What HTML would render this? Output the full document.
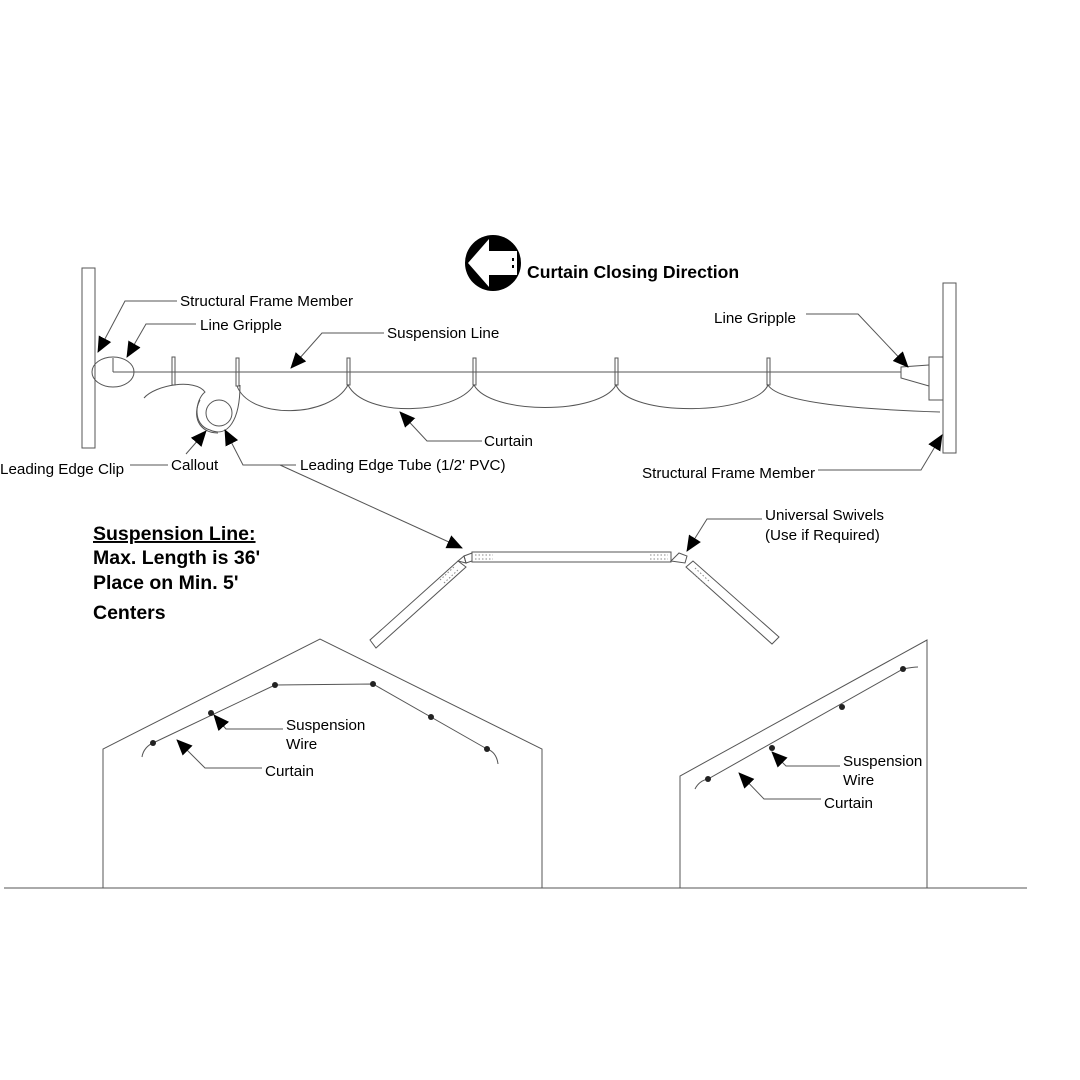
<!DOCTYPE html><html><head><style>body{margin:0;background:#fff}svg{display:block}text{font-family:"Liberation Sans",Arial,sans-serif;font-size:15.2px;fill:#000}.b{font-weight:bold;font-size:19.5px}</style></head><body>
<svg width="1080" height="1080" viewBox="0 0 1080 1080" fill="none" stroke="#555" stroke-width="1">
<defs><marker id="A" markerWidth="16" markerHeight="16" refX="15" refY="8" orient="auto" markerUnits="userSpaceOnUse" viewBox="0 0 16 16"><path d="M0,1L16,8L0,15z" fill="#000" stroke="none"/></marker></defs>
<rect x="82" y="268" width="13" height="180"/>
<rect x="943" y="283" width="13" height="170"/>
<line x1="113" y1="372" x2="901" y2="372"/>
<ellipse cx="113" cy="372" rx="21" ry="15"/>
<line x1="113" y1="358" x2="113" y2="372"/>
<rect x="929" y="357" width="14" height="43"/>
<path d="M929,365L901,367L901,378L929,386"/>
<g><rect x="172" y="357" width="3" height="28"/><rect x="236" y="358" width="3" height="28"/><rect x="347" y="358" width="3" height="27"/><rect x="473" y="358" width="3" height="27"/><rect x="615" y="358" width="3" height="27"/><rect x="767" y="358" width="3" height="27"/></g>
<path d="M237,386C250,420 330,418 348,385C365,418 455,415 474,385C490,415 600,415 616,385C630,418 755,415 768,385C780,405 880,410 940,412"/>
<path d="M144,398C155,385 195,378 205,392C195,400 192,425 210,430C228,438 240,420 240,385"/>
<circle cx="219" cy="413" r="13"/>
<path d="M200,400C192,415 198,433 218,433"/>
<path d="M177,301H125L98,352" marker-end="url(#A)"/>
<path d="M196,324H146L127,357" marker-end="url(#A)"/>
<path d="M384,333H322L291,368" marker-end="url(#A)"/>
<path d="M482,441H427L400,412" marker-end="url(#A)"/>
<path d="M806,314H858L908,367" marker-end="url(#A)"/>
<path d="M818,470H921L942,435" marker-end="url(#A)"/>
<path d="M130,465H168" />
<path d="M186,454L206,431" marker-end="url(#A)"/>
<path d="M296,465H243L225,430" marker-end="url(#A)"/>
<path d="M280,465L462,548" marker-end="url(#A)"/>
<path d="M762,519H707L687,551" marker-end="url(#A)"/>
<circle cx="493" cy="263" r="28" fill="#000" stroke="none"/>
<path d="M468,263L489,239V251H517V275H489V287Z" fill="#fff" stroke="none"/>
<rect x="512" y="258" width="2" height="3" fill="#000" stroke="none"/><rect x="512" y="265" width="2" height="3" fill="#000" stroke="none"/>
<rect x="472" y="552" width="199" height="10"/>
<path d="M464,556L472,553V561L466,563Z"/><path d="M679,553L687,556L685,563L671,561Z"/>
<path d="M458,561L464,556L466,563Z"/>
<path d="M458,561L370,640L376,648L466,567Z"/>
<path d="M693,561L686,567L772,644L779,637Z"/>
<g stroke-dasharray="1.5,2" stroke="#888"><line x1="475" y1="555" x2="493" y2="555"/><line x1="475" y1="559" x2="493" y2="559"/><line x1="650" y1="555" x2="668" y2="555"/><line x1="650" y1="559" x2="668" y2="559"/><line x1="440" y1="580" x2="455" y2="566"/><line x1="444" y1="583" x2="459" y2="569"/><line x1="695" y1="568" x2="710" y2="582"/><line x1="692" y1="572" x2="707" y2="586"/></g>
<path d="M103,888V749L320,639L542,749V888"/>
<path d="M153,743L275,685L373,684L487,749"/>
<path d="M142,757C143,750 148,745 153,743M487,749C493,751 497,756 498,764"/>
<g fill="#222" stroke="none"><circle cx="153" cy="743" r="3"/><circle cx="211" cy="713" r="3"/><circle cx="275" cy="685" r="3"/><circle cx="373" cy="684" r="3"/><circle cx="431" cy="717" r="3"/><circle cx="487" cy="749" r="3"/></g>
<path d="M283,729H226L214,715" marker-end="url(#A)"/>
<path d="M262,768H205L177,740" marker-end="url(#A)"/>
<path d="M680,888V776L927,640V888"/>
<path d="M695,789C698,783 703,780 708,779L903,669C908,668 913,667 918,667"/>
<g fill="#222" stroke="none"><circle cx="708" cy="779" r="3"/><circle cx="772" cy="748" r="3"/><circle cx="842" cy="707" r="3"/><circle cx="903" cy="669" r="3"/></g>
<path d="M840,766H786L772,752" marker-end="url(#A)"/>
<path d="M821,799H764L739,773" marker-end="url(#A)"/>
<line x1="4" y1="888" x2="1027" y2="888"/>
<g stroke="none">
<text x="527" y="278" class="b" style="font-size:17.6px">Curtain Closing Direction</text>
<text x="180" y="306">Structural Frame Member</text>
<text x="200" y="330">Line Gripple</text>
<text x="387" y="338">Suspension Line</text>
<text x="714" y="323">Line Gripple</text>
<text x="484" y="446">Curtain</text>
<text x="0" y="474">Leading Edge Clip</text>
<text x="171" y="470">Callout</text>
<text x="300" y="470">Leading Edge Tube (1/2' PVC)</text>
<text x="642" y="478">Structural Frame Member</text>
<text x="765" y="520">Universal Swivels</text>
<text x="765" y="540">(Use if Required)</text>
<text x="93" y="540" class="b" text-decoration="underline">Suspension Line:</text>
<text x="93" y="564" class="b">Max. Length is 36'</text>
<text x="93" y="589" class="b">Place on Min. 5'</text>
<text x="93" y="619" class="b">Centers</text>
<text x="286" y="730">Suspension</text>
<text x="286" y="749">Wire</text>
<text x="265" y="776">Curtain</text>
<text x="843" y="766">Suspension</text>
<text x="843" y="785">Wire</text>
<text x="824" y="808">Curtain</text>
</g>
</svg></body></html>
